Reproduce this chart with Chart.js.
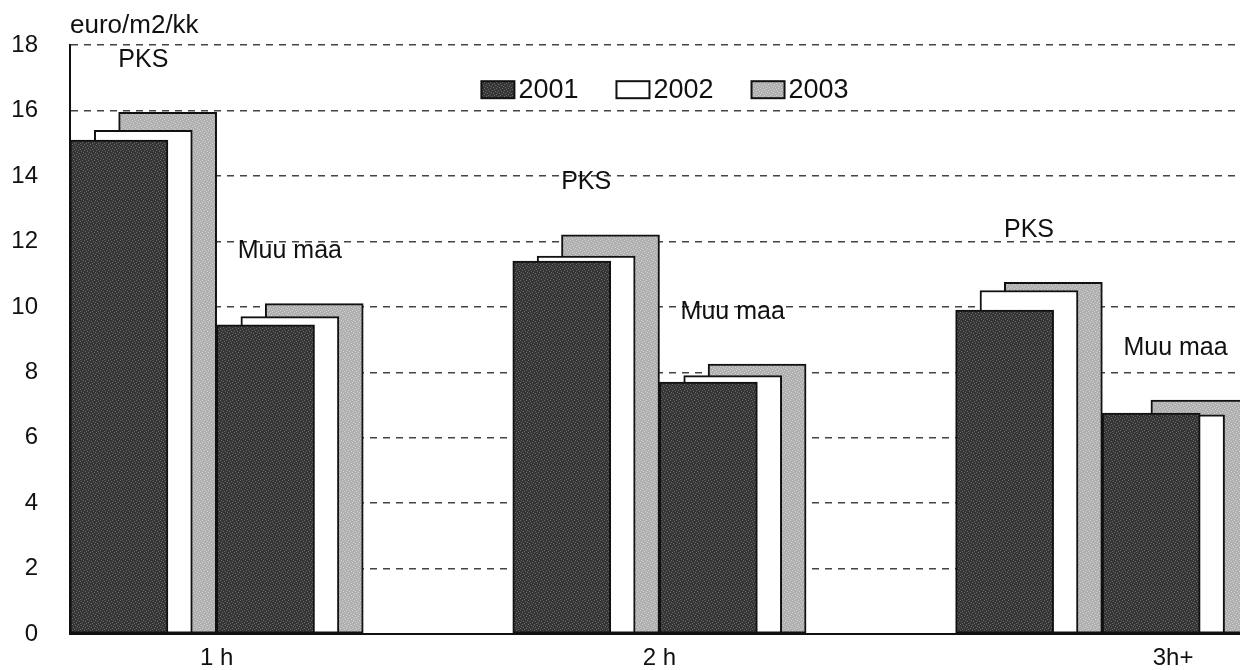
<!DOCTYPE html>
<html>
<head>
<meta charset="utf-8">
<title>euro/m2/kk</title>
<script src="https://cdn.jsdelivr.net/npm/chart.js@4.4.1/dist/chart.umd.min.js"></script>
<style>
  html, body { margin: 0; padding: 0; background: #fff; overflow: hidden; }
  canvas { display: block; }
</style>
</head>
<body>
<canvas id="chart" width="1240" height="670"></canvas>
<script>
const categories = ['1 h', '2 h', '3h+'];
const groupNames = ['PKS', 'Muu maa'];
const years = ['2001', '2002', '2003'];

// euro/m2/kk per category, PKS and Muu maa separately
const pks2001 = [15.1, 11.4, 9.9];
const pks2002 = [15.4, 11.55, 10.5];
const pks2003 = [15.95, 12.2, 10.75];
const muu2001 = [9.45, 7.7, 6.75];
const muu2002 = [9.7, 7.9, 6.7];
const muu2003 = [10.1, 8.25, 7.15];

const yTicks = [0, 2, 4, 6, 8, 10, 12, 14, 16, 18];

// layout (x in category units)
const GROUP_STEP = 0.331;
const YEAR_STEP = 0.055;
const X_MIN = -0.331;
const X_MAX = 2.311;
const LABEL_POS = [0, 1, 2.16];
const FONT = "'Liberation Sans', Arial, sans-serif";
const INK = '#111';

const seriesByYear = [[pks2001, muu2001], [pks2002, muu2002], [pks2003, muu2003]];

function makePattern(base, speck) {
    const c = document.createElement('canvas');
    c.width = 6;
    c.height = 6;
    const g = c.getContext('2d');
    g.fillStyle = base;
    g.fillRect(0, 0, 6, 6);
    g.fillStyle = speck;
    [[0, 0], [3, 1], [1, 3], [4, 4], [2, 5], [5, 2]].forEach(([px, py]) => g.fillRect(px, py, 1, 1));
    return g.createPattern(c, 'repeat');
}

const fills = [makePattern('#363636', '#6a6a6a'), '#ffffff', makePattern('#b0b0b0', '#d2d2d2')];

const datasets = years.map((yr, k) => ({
    label: yr,
    data: categories.flatMap((c, i) => groupNames.map((g, gi) => ({
        x: i + (gi - 0.5) * GROUP_STEP + (k - 1) * YEAR_STEP,
        y: seriesByYear[k][gi][i]
    }))),
    backgroundColor: fills[k],
    borderColor: INK,
    borderWidth: 2,
    borderSkipped: false,
    barThickness: 98,
    grouped: false
}));

const legendInside = {
    id: 'legendInside',
    afterDraw(chart) {
        const { ctx, chartArea } = chart;
        const boxW = 33, boxH = 17, gap = 4, spacing = 38;
        ctx.save();
        ctx.font = `27px ${FONT}`;
        const items = chart.data.datasets.map(ds => ({ ds, w: ctx.measureText(ds.label).width }));
        const total = items.reduce((s, it) => s + boxW + gap + it.w, 0) + spacing * (items.length - 1);
        let x = (chartArea.left + chartArea.right) / 2 - total / 2 + 10;
        const cy = chartArea.top + 44.5;
        items.forEach(({ ds, w }) => {
            ctx.fillStyle = ds.backgroundColor;
            ctx.fillRect(x, cy - boxH / 2, boxW, boxH);
            ctx.strokeStyle = INK;
            ctx.lineWidth = 2;
            ctx.strokeRect(x, cy - boxH / 2, boxW, boxH);
            ctx.fillStyle = INK;
            ctx.textAlign = 'left';
            ctx.textBaseline = 'middle';
            ctx.fillText(ds.label, x + boxW + gap, cy + 1);
            x += boxW + gap + w + spacing;
        });
        ctx.restore();
    }
};

const groupLabels = {
    id: 'groupLabels',
    afterDatasetsDraw(chart) {
        const { ctx, scales: { x, y } } = chart;
        ctx.save();
        ctx.font = `25px ${FONT}`;
        ctx.fillStyle = INK;
        ctx.textAlign = 'center';
        ctx.textBaseline = 'middle';
        categories.forEach((c, i) => groupNames.forEach((g, gi) => {
            const top = Math.max(...seriesByYear.map(s => s[gi][i]));
            ctx.fillText(g, x.getPixelForValue(i + (gi - 0.5) * GROUP_STEP), y.getPixelForValue(top + 1.6));
        }));
        ctx.restore();
    }
};

Chart.defaults.font.family = FONT;
Chart.defaults.color = INK;

new Chart(document.getElementById('chart'), {
    type: 'bar',
    data: { datasets },
    options: {
        responsive: false,
        animation: false,
        layout: { padding: 0 },
        plugins: {
            legend: { display: false },
            tooltip: { enabled: false },
            title: {
                display: true,
                text: 'euro/m2/kk',
                align: 'start',
                fullSize: false,
                color: INK,
                font: { size: 26, weight: 'normal' },
                padding: { top: 10, bottom: 4 }
            }
        },
        scales: {
            x: {
                type: 'linear',
                min: X_MIN,
                max: X_MAX,
                offset: false,
                grid: { display: false, drawTicks: false },
                border: { display: true, color: INK, width: 2 },
                afterBuildTicks: s => { s.ticks = LABEL_POS.map(v => ({ value: v })); },
                afterFit: s => { s.height = 36; },
                ticks: {
                    autoSkip: false,
                    maxRotation: 0,
                    padding: 12,
                    color: INK,
                    font: { size: 24, lineHeight: 1 },
                    callback: (v, idx) => categories[idx]
                }
            },
            y: {
                min: yTicks[0],
                max: yTicks[yTicks.length - 1],
                afterBuildTicks: s => { s.ticks = yTicks.map(v => ({ value: v })); },
                afterFit: s => {
                    s.width = 70;
                    s.paddingTop = 0;
                    s.paddingBottom = 0;
                },
                grid: { color: '#444', lineWidth: 1.5, drawTicks: false },
                border: { display: true, color: INK, width: 2, dash: [7, 6] },
                ticks: { padding: 32, color: INK, font: { size: 24 } }
            }
        }
    },
    plugins: [groupLabels, legendInside]
});
</script>
</body>
</html>
